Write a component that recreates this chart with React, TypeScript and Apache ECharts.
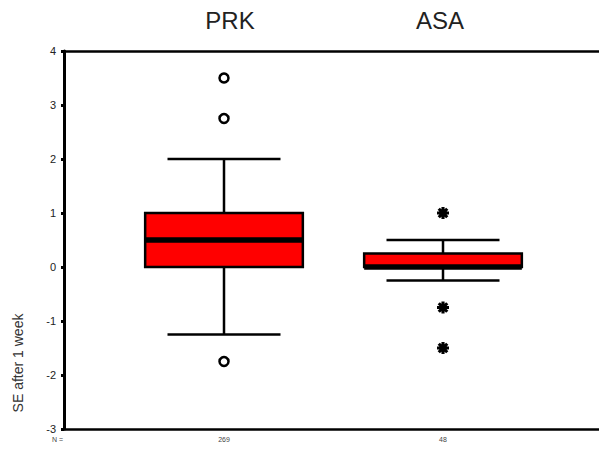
import React, { useEffect, useRef } from "react";
import * as echarts from "echarts";

const groups = ["PRK", "ASA"];
const counts = [269, 48];
// low whisker, Q1, median, Q3, high whisker
const prkStats = [-1.25, 0, 0.5, 1, 2];
const asaStats = [-0.25, 0, 0, 0.25, 0.5];
const prkOutliers = [3.5, 2.75, -1.75];
const asaExtremes = [1, -0.75, -1.5];
const yTicksMin = -3;
const yTicksMax = 4;

const X_MIN = 0.2694;
const X_MAX = 2.7123;
const BOX_HALF = 0.36;
const CAP_HALF = 0.258;
const TITLE_SHIFT = [6, -3];
const FONT = "'Liberation Sans', Arial, sans-serif";

const STAR =
  "path://M-1.3,-5L1.3,-5L1.3,5L-1.3,5Z" +
  "M-5,-1.3L5,-1.3L5,1.3L-5,1.3Z" +
  "M2.62,-4.46L4.46,-2.62L-2.62,4.46L-4.46,2.62Z" +
  "M-4.46,-2.62L-2.62,-4.46L4.46,2.62L2.62,4.46Z";

export default function App() {
  const ref = useRef<HTMLDivElement>(null);
  useEffect(() => {
    document.body.style.margin = "0";
    const chart = echarts.init(ref.current!, null, { renderer: "svg" });
    const boxData = [
      [1, ...prkStats],
      [2, ...asaStats],
    ];
    const axisCommon = {
      type: "value",
      min: X_MIN,
      max: X_MAX,
      splitLine: { show: false },
      axisTick: { show: false },
      axisLabel: { show: false },
      axisLine: { show: true, onZero: false, lineStyle: { color: "#000", width: 2.5 } },
    };
    chart.setOption({
      animation: false,
      grid: { left: 64, right: 0, top: 51, bottom: 22 },
      xAxis: [
        { ...axisCommon, position: "bottom" },
        { ...axisCommon, position: "top" },
      ],
      yAxis: {
        type: "value",
        min: yTicksMin,
        max: yTicksMax,
        interval: 1,
        splitLine: { show: false },
        axisLine: { show: true, onZero: false, lineStyle: { color: "#000", width: 3 } },
        axisTick: { show: true, length: 3, lineStyle: { color: "#000", width: 3 } },
        axisLabel: { fontSize: 11, color: "#222", fontFamily: FONT, margin: 8 },
      },
      series: [
        {
          type: "custom",
          xAxisIndex: 0,
          data: boxData,
          encode: { x: 0, y: [1, 2, 3, 4, 5] },
          renderItem: (params: any, api: any) => {
            const x = api.value(0);
            const low = api.value(1);
            const q1 = api.value(2);
            const med = api.value(3);
            const q3 = api.value(4);
            const high = api.value(5);
            const pt = (dx: number, v: number) => api.coord([x + dx, v]);
            const [xl, yq3] = pt(-BOX_HALF, q3);
            const [xr, yq1] = pt(BOX_HALF, q1);
            const [xc, yHigh] = pt(0, high);
            const yLow = pt(0, low)[1];
            const yMed = pt(0, med)[1];
            const cl = pt(-CAP_HALF, 0)[0];
            const cr = pt(CAP_HALF, 0)[0];
            const ls = { stroke: "#000", lineWidth: 2.5 };
            return {
              type: "group",
              children: [
                { type: "line", shape: { x1: xc, y1: yHigh, x2: xc, y2: yq3 }, style: ls },
                { type: "line", shape: { x1: xc, y1: yq1, x2: xc, y2: yLow }, style: ls },
                { type: "line", shape: { x1: cl, y1: yHigh, x2: cr, y2: yHigh }, style: ls },
                { type: "line", shape: { x1: cl, y1: yLow, x2: cr, y2: yLow }, style: ls },
                {
                  type: "rect",
                  shape: { x: xl, y: yq3, width: xr - xl, height: yq1 - yq3 },
                  style: { fill: "#ff0000", stroke: "#000", lineWidth: 2.5 },
                },
                {
                  type: "line",
                  shape: { x1: xl, y1: yMed, x2: xr, y2: yMed },
                  style: { stroke: "#000", lineWidth: 5.5 },
                },
              ],
            };
          },
        },
        {
          type: "scatter",
          xAxisIndex: 0,
          data: prkOutliers.map((v) => [1, v]),
          symbol: "circle",
          symbolSize: 9,
          itemStyle: { color: "#fff", borderColor: "#000", borderWidth: 2.5, opacity: 1 },
        },
        {
          type: "scatter",
          xAxisIndex: 0,
          data: asaExtremes.map((v) => [2, v]),
          symbol: STAR,
          symbolSize: 12,
          itemStyle: { color: "#000", opacity: 1 },
        },
      ],
    });

    // Category labels positioned through the axis scale
    const graphics: any[] = [];
    groups.forEach((g, i) => {
      const px = chart.convertToPixel({ xAxisIndex: 0 }, i + 1) as number;
      graphics.push({
        type: "text",
        x: px + TITLE_SHIFT[i],
        y: 20,
        style: {
          text: g,
          fontSize: 24,
          fontFamily: FONT,
          fill: "#222",
          textAlign: "center",
          textVerticalAlign: "middle",
        },
      });
      graphics.push({
        type: "text",
        x: px,
        y: 439,
        style: {
          text: String(counts[i]),
          fontSize: 7,
          fontFamily: FONT,
          fill: "#444",
          textAlign: "center",
          textVerticalAlign: "middle",
        },
      });
    });
    graphics.push(
      {
        type: "text",
        x: 18,
        y: 363,
        rotation: Math.PI / 2,
        style: {
          text: "SE after 1 week",
          fontSize: 14,
          fontFamily: FONT,
          fill: "#333",
          textAlign: "center",
          textVerticalAlign: "middle",
        },
      },
      {
        type: "text",
        x: 63,
        y: 439,
        style: {
          text: "N =",
          fontSize: 7,
          fontFamily: FONT,
          fill: "#444",
          textAlign: "right",
          textVerticalAlign: "middle",
        },
      }
    );
    chart.setOption({ graphic: graphics });
    return () => chart.dispose();
  }, []);
  return (
    <div
      ref={ref}
      style={{ position: "fixed", left: 0, top: 0, width: 599, height: 451, background: "#fff" }}
    />
  );
}
